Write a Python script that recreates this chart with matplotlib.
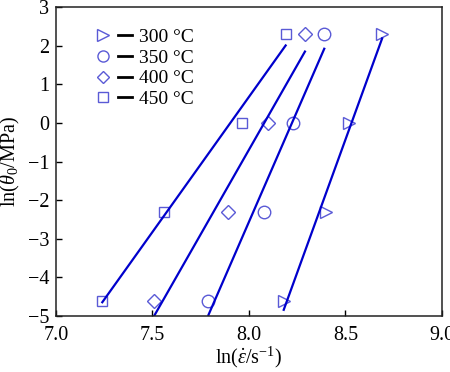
import numpy as np
import matplotlib
matplotlib.use("Agg")
import matplotlib.pyplot as plt
from matplotlib.lines import Line2D
from matplotlib.legend_handler import HandlerTuple

plt.rcParams['font.family'] = ['Liberation Serif', 'DejaVu Serif']
plt.rcParams['mathtext.fontset'] = 'custom'
plt.rcParams['mathtext.rm'] = 'Liberation Serif'
plt.rcParams['mathtext.it'] = 'Liberation Serif:italic'

temps = ['300 °C', '350 °C', '400 °C', '450 °C']
markers = ['>', 'o', 'D', 's']
y_vals = [-4.61, -2.30, 0.0, 2.30]
x_300 = [8.18, 8.40, 8.52, 8.69]
x_350 = [7.79, 8.08, 8.23, 8.39]
x_400 = [7.51, 7.89, 8.10, 8.29]
x_450 = [7.24, 7.56, 7.965, 8.19]
series = [x_300, x_350, x_400, x_450]

marker_col = '#5a5ad6'
line_col = '#0000cc'
fs = 14.5
msizes = {'>': 9, 'o': 9, 'D': 7, 's': 7.5}

fig = plt.figure(figsize=(4.5, 3.72), dpi=100)
ax = fig.add_axes([0.1244, 0.1505, 0.8578, 0.8305])

handles = []
for xs, m, lab in zip(series, markers, temps):
    xs = np.array(xs)
    ys = np.array(y_vals)
    ms = msizes[m]
    ax.plot(xs, ys, linestyle='none', marker=m, markersize=ms,
            markerfacecolor='none', markeredgecolor=marker_col, markeredgewidth=1.0)
    k, b = np.polyfit(xs, ys, 1)
    xl = np.array([xs.min(), xs.max()])
    ax.plot(xl, k * xl + b, color=line_col, linewidth=1.6)
    hm = Line2D([], [], linestyle='none', marker=m, markersize=ms - 1,
                markerfacecolor='none', markeredgecolor=marker_col, markeredgewidth=1.0)
    hl = Line2D([], [], color='black', linewidth=2.0)
    handles.append((hm, hl))

ax.set_xlim(7.0, 9.0)
ax.set_ylim(-5, 3)
ax.set_xticks([7.0, 7.5, 8.0, 8.5, 9.0])
ax.set_xticklabels(['7.0', '7.5', '8.0', '8.5', '9.0'])
ax.set_yticks(range(-5, 4))
ax.set_yticklabels(['\u22125', '\u22124', '\u22123', '\u22122', '\u22121', '0', '1', '2', '3'])
ax.tick_params(direction='in', length=4, width=1, labelsize=fs)
ax.tick_params(axis='x', pad=7)
ax.tick_params(axis='y', pad=5)
for s in ax.spines.values():
    s.set_linewidth(1.1)
    s.set_color('#222222')

ax.set_xlabel(r'ln($\dot{\varepsilon}$/s$^{-1}$)', fontsize=fs, labelpad=0)
ax.set_ylabel(r'ln($\theta_0$/MPa)', fontsize=fs, labelpad=4)

leg = ax.legend(handles, temps, handler_map={tuple: HandlerTuple(ndivide=None, pad=0.45)},
                loc='upper left', bbox_to_anchor=(0.103, 0.93), frameon=False,
                fontsize=14, handlelength=1.85, handletextpad=0.35, labelspacing=0.15,
                borderpad=0, borderaxespad=0)

fig.savefig('out.png', dpi=100)
